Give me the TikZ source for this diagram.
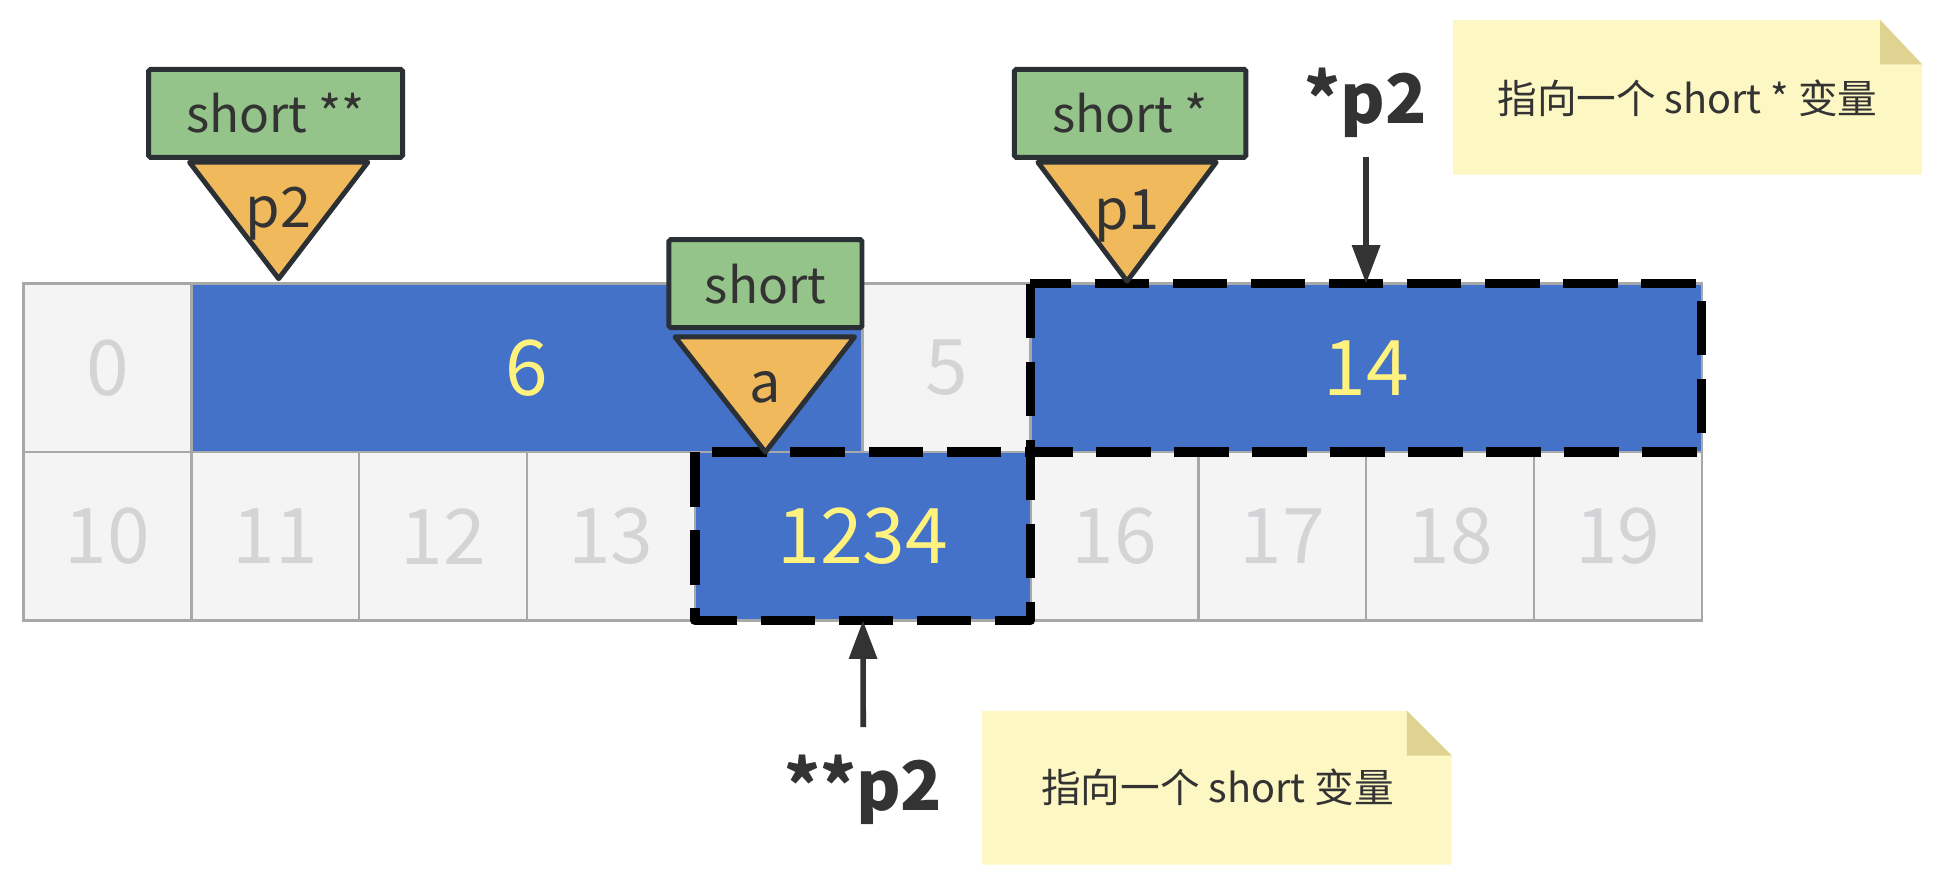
\documentclass[tikz,border=0pt]{standalone}
\usepackage{fontspec}
\setmainfont{Noto Sans CJK SC}
\usetikzlibrary{arrows.meta}
\definecolor{cellgray}{HTML}{F4F4F4}
\definecolor{gridgray}{HTML}{A8A8A8}
\definecolor{numgray}{HTML}{D4D4D7}
\definecolor{memblue}{HTML}{4472C9}
\definecolor{valyellow}{HTML}{FFF27F}
\definecolor{typegreen}{HTML}{94C48A}
\definecolor{ptrorange}{HTML}{F0BA5C}
\definecolor{darkline}{HTML}{2B3035}
\definecolor{textdark}{HTML}{333333}
\definecolor{notefill}{HTML}{FDF7C3}
\definecolor{notefold}{HTML}{E0D290}
\begin{document}
\begin{tikzpicture}[x=1pt,y=-1pt,
  cell/.style={rectangle,draw=gridgray,line width=2pt,fill=cellgray,minimum width=135.5pt,minimum height=136pt,inner sep=0pt,outer sep=0pt,text=numgray,font=\fontsize{62}{62}\selectfont},
  memblock/.style={rectangle,draw=gridgray,line width=2pt,fill=memblue,minimum height=136pt,inner sep=0pt,outer sep=0pt,text=valyellow,font=\fontsize{62}{62}\selectfont},
  dashbox/.style={draw=black,line width=7.5pt,dash pattern=on 44pt off 19pt,line join=round},
  typebox/.style={rectangle,draw=darkline,line width=4pt,fill=typegreen,minimum height=71pt,inner sep=0pt,outer sep=0pt,text=textdark,font=\fontsize{40}{40}\selectfont,rounded corners=1.5pt},
  ptrtri/.style={draw=darkline,line width=4pt,fill=ptrorange,line join=round},
  ptrlabel/.style={anchor=base,inner sep=0pt,text=textdark,font=\fontsize{45}{45}\selectfont},
  exprlabel/.style={anchor=base,inner sep=0pt,text=textdark,font=\fontsize{55}{55}\selectfont\bfseries},
  arr/.style={draw=textdark,line width=4.5pt,-{Triangle[length=31pt,width=22pt]}},
  notebody/.style={fill=notefill},
  notefoldstyle/.style={fill=notefold},
  notetext/.style={text=textdark,font=\fontsize{32}{32}\selectfont,inner sep=0pt}
]
\useasboundingbox (0,0) rectangle (1568,713);
% memory cells
\foreach \k/\r/\lab in {0/0/0, 5/0/5, 0/1/10, 1/1/11, 2/1/12, 3/1/13, 6/1/16, 7/1/17, 8/1/18, 9/1/19}
  \node[cell] (c\lab) at ({19+135.5*(\k+0.5)},{297+136*\r}) {\lab};
% occupied blocks
\node[memblock,minimum width=542pt] (b6) at (425.5,297) {6};
\node[memblock,minimum width=542pt] (b14) at (1103,297) {14};
\node[memblock,minimum width=271pt] (b1234) at (696.75,433) {1234};
\draw[dashbox] (b14.north west) rectangle (b14.south east);
\draw[dashbox] (b1234.north west) rectangle (b1234.south east);
% type boxes
\node[typebox,minimum width=205pt] (t2) at (222.5,91.5) {short **};
\node[typebox,minimum width=156pt] (ta) at (618,229) {short};
\node[typebox,minimum width=187pt] (t1) at (912.5,91.5) {short *};
% pointer triangles
\draw[ptrtri] (153,131) -- (297,131) -- (225,225) -- cycle;
\node[ptrlabel] (lp2) at (225,184) {p2};
\draw[ptrtri] (545,272) -- (690,272) -- (618,365) -- cycle;
\node[ptrlabel] (la) at (618,325) {a};
\draw[ptrtri] (838,131) -- (982,131) -- (910,227) -- cycle;
\node[ptrlabel] (lp1) at (910,185) {p1};
% expressions and arrows
\node[exprlabel] (e1) at (1103,99.6) {*p2};
\node[exprlabel] (e2) at (697,654.5) {**p2};
\coordinate (e1s) at (1103,127);
\coordinate (e2s) at (697,587);
\draw[arr] (e1s) -- (b14.north);
\draw[arr] (e2s) -- (b1234.south);
% notes
\fill[notebody] (1173,16) -- (1518,16) -- (1552,52) -- (1552,141) -- (1173,141) -- cycle;
\fill[notefoldstyle] (1518,16) -- (1518,52) -- (1552,52) -- cycle;
\node[notetext] (n1) at (1362.5,79) {指向一个 short * 变量};
\fill[notebody] (793,574) -- (1136,574) -- (1172,610) -- (1172,698) -- (793,698) -- cycle;
\fill[notefoldstyle] (1136,574) -- (1136,610) -- (1172,610) -- cycle;
\node[notetext] (n2) at (983,636) {指向一个 short 变量};
\end{tikzpicture}
\end{document}
